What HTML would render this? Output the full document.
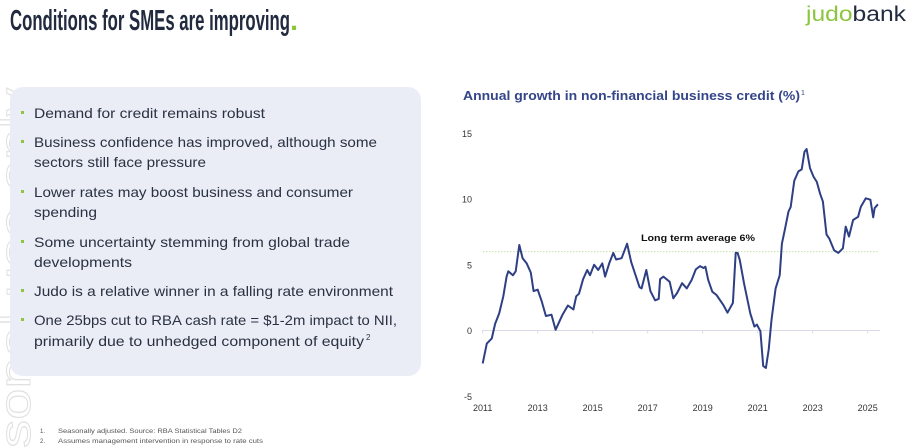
<!DOCTYPE html>
<html><head><meta charset="utf-8"><style>
html,body{margin:0;padding:0;background:#fff;}
svg{display:block;font-family:"Liberation Sans",sans-serif;}
</style></head><body>
<svg width="918" height="448" viewBox="0 0 918 448">
<text x="-448" y="30" transform="rotate(-90)" font-size="44" fill="none" stroke="#e0e0e0" stroke-width="1" textLength="360" lengthAdjust="spacingAndGlyphs">sonal use only</text>
<text x="10" y="30" font-size="29" font-weight="bold" fill="#222a3f" textLength="280" lengthAdjust="spacingAndGlyphs">Conditions for SMEs are improving</text>
<text x="290" y="30" font-size="29" font-weight="bold" fill="#8cc63f">.</text>
<g>
<text x="806" y="21" font-size="21" textLength="100" lengthAdjust="spacingAndGlyphs"><tspan fill="#8cc63f">judo</tspan><tspan fill="#222a3f">bank</tspan></text>
</g>
<rect x="10" y="87" width="411" height="289" rx="13" fill="#eaedf5"/>
<g font-size="14" fill="#2a3142">
<g fill="#8cc63f"><rect x="21" y="111" width="3" height="3"/><rect x="21" y="140" width="3" height="3"/><rect x="21" y="190" width="3" height="3"/><rect x="21" y="240" width="3" height="3"/><rect x="21" y="289" width="3" height="3"/><rect x="21" y="318" width="3" height="3"/></g>
<text x="34" y="118" textLength="231" lengthAdjust="spacingAndGlyphs">Demand for credit remains robust</text>
<text x="34" y="147" textLength="343" lengthAdjust="spacingAndGlyphs">Business confidence has improved, although some</text>
<text x="34" y="167" textLength="172" lengthAdjust="spacingAndGlyphs">sectors still face pressure</text>
<text x="34" y="197" textLength="319" lengthAdjust="spacingAndGlyphs">Lower rates may boost business and consumer</text>
<text x="34" y="217" textLength="63" lengthAdjust="spacingAndGlyphs">spending</text>
<text x="34" y="247" textLength="316" lengthAdjust="spacingAndGlyphs">Some uncertainty stemming from global trade</text>
<text x="34" y="267" textLength="98" lengthAdjust="spacingAndGlyphs">developments</text>
<text x="34" y="296" textLength="359" lengthAdjust="spacingAndGlyphs">Judo is a relative winner in a falling rate environment</text>
<text x="34" y="325" textLength="363" lengthAdjust="spacingAndGlyphs">One 25bps cut to RBA cash rate = $1-2m impact to NII,</text>
<text x="34" y="346" textLength="330" lengthAdjust="spacingAndGlyphs">primarily due to unhedged component of equity</text>
<text x="366" y="340" font-size="8">2</text>
</g>
<g font-size="6" fill="#555">
<text x="40" y="433">1.</text><text x="58" y="433" textLength="184" lengthAdjust="spacingAndGlyphs">Seasonally adjusted. Source: RBA Statistical Tables D2</text>
<text x="40" y="443">2.</text><text x="58" y="443" textLength="205" lengthAdjust="spacingAndGlyphs">Assumes management intervention in response to rate cuts</text>
</g>
<text x="463" y="100" font-size="12.5" font-weight="bold" fill="#34458a" textLength="337" lengthAdjust="spacingAndGlyphs">Annual growth in non-financial business credit (%)</text>
<text x="801" y="95" font-size="7" fill="#34458a">1</text>
<g id="chart"></g>
</svg>
<script>
const yTicks=[15,10,5,0,-5];
const xTickLabels=["2011","2013","2015","2017","2019","2021","2023","2025"];
const avgValue=6;
const avgLabel="Long term average 6%";
const years=[2011.0,2011.15,2011.33,2011.45,2011.6,2011.75,2011.87,2011.93,2012.1,2012.2,2012.33,2012.45,2012.6,2012.75,2012.85,2013.0,2013.15,2013.3,2013.5,2013.65,2013.9,2014.1,2014.3,2014.4,2014.5,2014.65,2014.8,2014.9,2015.05,2015.2,2015.35,2015.45,2015.6,2015.75,2015.85,2016.05,2016.25,2016.4,2016.7,2016.78,2016.95,2017.1,2017.27,2017.4,2017.45,2017.57,2017.8,2017.93,2018.07,2018.25,2018.42,2018.6,2018.75,2018.9,2019.03,2019.1,2019.2,2019.35,2019.5,2019.75,2019.9,2020.1,2020.2,2020.27,2020.35,2020.5,2020.73,2020.88,2020.97,2021.1,2021.2,2021.3,2021.4,2021.5,2021.65,2021.8,2021.88,2022.0,2022.12,2022.2,2022.33,2022.48,2022.6,2022.7,2022.78,2022.9,2023.03,2023.15,2023.27,2023.37,2023.5,2023.6,2023.78,2023.93,2024.1,2024.2,2024.32,2024.47,2024.65,2024.75,2024.93,2025.1,2025.2,2025.25,2025.37];
const growth=[-2.5,-1,-0.6,0.5,1.3,2.6,4.1,4.5,4.2,4.5,6.5,5.5,5.1,4.4,3.0,3.1,2.2,1.1,1.2,0.05,1.2,1.9,1.6,2.6,2.8,3.9,4.6,4.2,5.0,4.6,5.1,4.1,5.1,5.9,5.4,5.5,6.6,5.2,3.3,3.2,4.6,3.0,2.3,2.4,3.9,4.1,3.7,2.45,2.85,3.6,3.2,3.85,4.65,4.9,4.75,4.85,3.85,2.95,2.7,1.95,1.35,2.1,5.9,5.9,5.35,3.6,1.3,0.3,0.45,-0.05,-2.7,-2.85,-1.45,0.8,3.2,4.2,6.6,7.8,9.05,9.4,11.4,12.1,12.25,13.6,13.8,12.35,11.7,11.3,10.4,9.8,7.3,7.0,6.1,5.9,6.25,7.9,7.15,8.4,8.65,9.4,10.05,9.95,8.6,9.3,9.6];
const NS="http://www.w3.org/2000/svg";
const g=document.getElementById('chart');
const x=v=>482.7+(v-2011)*27.5;
const y=v=>330.5-v*13.15;
function mk(tag,at){const e=document.createElementNS(NS,tag);for(const k in at)e.setAttribute(k,at[k]);g.appendChild(e);return e;}
yTicks.forEach(t=>{const e=mk('text',{x:472,y:y(t)+3.5,'font-size':9,fill:'#333','text-anchor':'end'});e.textContent=t;

});
const base=mk('line',{x1:482,x2:880,y1:y(0),y2:y(0),stroke:'#d9dce6','stroke-width':1});


xTickLabels.forEach(l=>{const xv=x(+l);mk('line',{x1:xv,x2:xv,y1:y(0),y2:y(0)+3,stroke:'#d9dce6'});
const e=mk('text',{x:xv,y:411,'font-size':9,fill:'#333','text-anchor':'middle'});e.textContent=l;

});
const avg=mk('line',{x1:483,x2:879,y1:y(avgValue),y2:y(avgValue),stroke:'#c5e3a5','stroke-width':1,'stroke-dasharray':'1.5 1.5'});


const al=mk('text',{x:641,y:241,'font-size':9.5,'font-weight':'bold',fill:'#111',textLength:114,lengthAdjust:'spacingAndGlyphs'});al.textContent=avgLabel;


const p=mk('path',{d:years.map((yr,i)=>(i?'L':'M')+x(yr).toFixed(1)+','+y(growth[i]).toFixed(1)).join(''),fill:'none',stroke:'#2e3f84','stroke-width':2,'stroke-linejoin':'round'});


</script>
</body></html>
